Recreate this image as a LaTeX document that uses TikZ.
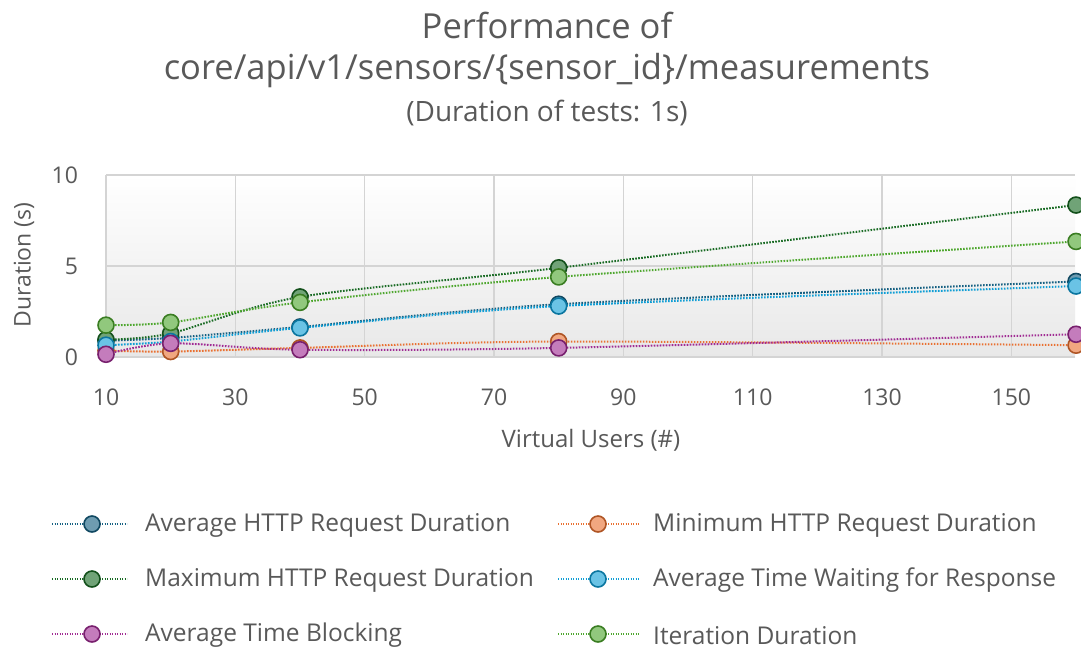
\documentclass[tikz,border=0pt]{standalone}
\usepackage{fontspec}
\setmainfont{Open Sans}
\definecolor{txt}{HTML}{595959}
\definecolor{gridc}{HTML}{D4D4D4}
\definecolor{cavg}{HTML}{156082}
\definecolor{cmin}{HTML}{E97132}
\definecolor{cmax}{HTML}{196B24}
\definecolor{cwait}{HTML}{0F9ED5}
\definecolor{cblk}{HTML}{A02B93}
\definecolor{citer}{HTML}{4EA72E}
\tikzset{
  serline/.style={line width=2pt, dash pattern=on 1.6pt off 1.4pt, #1},
  mk/.style={fill=#1!62!white, draw=#1!75!black, line width=1.6pt},
  ticklab/.style={text=txt, font=\fontsize{23}{27}\selectfont, inner sep=0pt},
  leglab/.style={text=txt, font=\fontsize{24.5}{29}\selectfont, inner sep=0pt, anchor=west},
}
\begin{document}
\begin{tikzpicture}[x=1pt,y=1pt]
\useasboundingbox (0,0) rectangle (1081,-649);
\fill[white] (0,0) rectangle (1081,-649);
% titles
\node[text=txt, font=\fontsize{34.5}{40}\selectfont, inner sep=0pt] (t1) at (547,-25) {Performance of};
\node[text=txt, font=\fontsize{34.5}{40}\selectfont, inner sep=0pt] (t2) at (547,-71) {core/api/v1/sensors/\{sensor\_id\}/measurements};
\node[text=txt, font=\fontsize{28}{33}\selectfont, inner sep=0pt] (t3) at (547,-113) {(Duration of tests: 1s)};
% plot area
\shade[top color=white, bottom color=black!9] (106,-175) rectangle (1075,-357);
\begin{scope}[shift={(106,-357)}, x=6.467pt, y=18.2pt]
  \foreach \v in {0,20,40,60,80,100,120,140} \draw[gridc, line width=1.3pt] (\v,0) -- (\v,10);
  \foreach \d in {5,10} \draw[gridc, line width=1.3pt] (0,\d) -- (149.85,\d);
  \draw[gridc, line width=1.5pt] (0,0) -- (149.85,0);
  % tick labels
  \foreach \v/\l in {0/10,20/30,40/50,60/70,80/90,100/110,120/130,140/150}
    \node[ticklab] (x\l) at (\v,-2.2) {\l};
  \node[ticklab, anchor=east] (y0) at (-4.3,0) {0};
  \node[ticklab, anchor=east] (y5) at (-4.3,5) {5};
  \node[ticklab, anchor=east] (y10) at (-4.3,10) {10};
  % series
  \draw[serline=cavg] plot[smooth, tension=0.5] coordinates {(0,0.9) (10,1.05) (30,1.65) (70,2.9) (150,4.15)};
  \draw[serline=cmin] plot[smooth, tension=0.5] coordinates {(0,0.35) (10,0.3) (30,0.5) (70,0.85) (150,0.65)};
  \draw[serline=cmax] plot[smooth, tension=0.5] coordinates {(0,0.95) (10,1.3) (30,3.3) (70,4.9) (150,8.35)};
  \draw[serline=cwait] plot[smooth, tension=0.5] coordinates {(0,0.65) (10,0.85) (30,1.6) (70,2.8) (150,3.9)};
  \draw[serline=cblk] plot[smooth, tension=0.5] coordinates {(0,0.15) (10,0.75) (30,0.4) (70,0.5) (150,1.25)};
  \draw[serline=citer] plot[smooth, tension=0.5] coordinates {(0,1.75) (10,1.9) (30,3.0) (70,4.4) (150,6.35)};
  \foreach \p in {(0,0.9),(10,1.05),(30,1.65),(70,2.9),(150,4.15)} \fill[mk=cavg] \p circle (8pt);
  \foreach \p in {(0,0.35),(10,0.3),(30,0.5),(70,0.85),(150,0.65)} \fill[mk=cmin] \p circle (8pt);
  \foreach \p in {(0,0.95),(10,1.3),(30,3.3),(70,4.9),(150,8.35)} \fill[mk=cmax] \p circle (8pt);
  \foreach \p in {(0,0.65),(10,0.85),(30,1.6),(70,2.8),(150,3.9)} \fill[mk=cwait] \p circle (8pt);
  \foreach \p in {(0,0.15),(10,0.75),(30,0.4),(70,0.5),(150,1.25)} \fill[mk=cblk] \p circle (8pt);
  \foreach \p in {(0,1.75),(10,1.9),(30,3.0),(70,4.4),(150,6.35)} \fill[mk=citer] \p circle (8pt);
\end{scope}
% axis titles
\node[text=txt, font=\fontsize{24}{29}\selectfont, inner sep=0pt] (xt) at (591,-440) {Virtual Users (\#)};
\node[text=txt, font=\fontsize{23}{27}\selectfont, inner sep=0pt, rotate=90] (yt) at (24,-265) {Duration (s)};
% legend
\foreach \y/\c/\l [count=\i] in {-524/cavg/Average HTTP Request Duration, -579/cmax/Maximum HTTP Request Duration, -634/cblk/Average Time Blocking}{
  \draw[line width=1.3pt, dash pattern=on 1.3pt off 1.2pt, \c] (52,\y) -- (127,\y);
  \fill[mk=\c] (92,\y) circle (8pt);
  \node[leglab] (la\i) at (145,\y-1.5) {\l};
}
\foreach \y/\c/\l [count=\i] in {-524/cmin/Minimum HTTP Request Duration, -579/cwait/Average Time Waiting for Response, -634/citer/Iteration Duration}{
  \draw[line width=1.3pt, dash pattern=on 1.3pt off 1.2pt, \c] (558,\y) -- (640,\y);
  \fill[mk=\c] (598,\y) circle (8pt);
  \node[leglab] (lb\i) at (653,\y-1.5) {\l};
}
\end{tikzpicture}
\end{document}
